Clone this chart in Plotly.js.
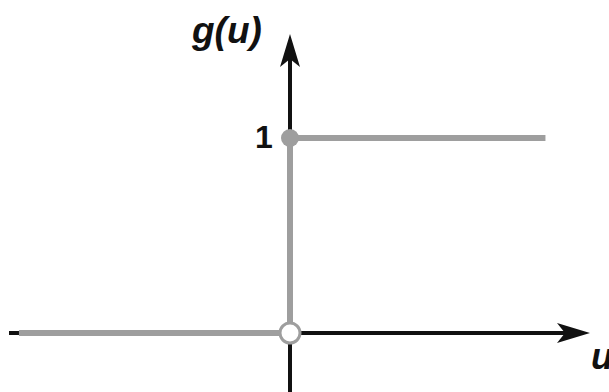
<!DOCTYPE html>
<html>
<head>
<meta charset="utf-8">
<script src="https://cdn.plot.ly/plotly-3.0.1.min.js"></script>
<style>html,body{margin:0;padding:0;background:#fff;}#chart{width:609px;height:392px;}</style>
</head>
<body>
<div id="chart"></div>
<script>
// Data: unit step function g(u)
const uValues = [-1.39, 0, 1.31];
const gValues = [0, 1, 1];
const closedPoint = {u: [0], g: [1]};
const openPoint = {u: [0], g: [0]};
const yTickLabel = '1';

// Geometry helpers (figure is 609x392, zero margins)
const W = 609, H = 392;
const PXU = 195;          // pixels per unit
const X0 = 290, Y0 = 333; // pixel location of origin
const xr = [-X0 / PXU, (W - X0) / PXU];
const yr = [-(H - Y0) / PXU, Y0 / PXU];
const px2x = p => (p - X0) / PXU;
const px2y = p => (Y0 - p) / PXU;

const gray = '#9e9e9e';
const black = '#111111';

const traces = [
  {
    x: uValues, y: gValues, type: 'scatter', mode: 'lines',
    line: {shape: 'hv', color: gray, width: 6},
    hoverinfo: 'skip'
  },
  {
    x: closedPoint.u, y: closedPoint.g, type: 'scatter', mode: 'markers',
    marker: {size: 18, color: gray, line: {width: 0}},
    hoverinfo: 'skip'
  },
  {
    x: openPoint.u, y: openPoint.g, type: 'scatter', mode: 'markers',
    marker: {size: 20, color: '#ffffff', line: {width: 3, color: gray}},
    hoverinfo: 'skip'
  }
];

const xTip = px2x(590), yTip = px2y(34);
const shapes = [
  // x axis line
  {type: 'line', layer: 'below', x0: px2x(9), x1: px2x(570), y0: 0, y1: 0,
   line: {color: black, width: 4}},
  // y axis line
  {type: 'line', layer: 'below', x0: 0, x1: 0, y0: yr[0], y1: px2y(55),
   line: {color: black, width: 4}},
  // x arrowhead
  {type: 'path', layer: 'below', xsizemode: 'pixel', ysizemode: 'pixel',
   xanchor: xTip, yanchor: 0,
   path: 'M0,0 L-33,10 L-25,0 L-33,-10 Z',
   fillcolor: black, line: {width: 0}},
  // y arrowhead
  {type: 'path', layer: 'below', xsizemode: 'pixel', ysizemode: 'pixel',
   xanchor: 0, yanchor: yTip,
   path: 'M0,0 L10,-33 L0,-25 L-10,-33 Z',
   fillcolor: black, line: {width: 0}}
];

const fontFam = '"Liberation Sans", Arial, sans-serif';
const annotations = [
  {x: px2x(226), y: px2y(30), xref: 'x', yref: 'y', text: '<b><i>g(u)</i></b>',
   showarrow: false, xanchor: 'center', yanchor: 'middle',
   font: {family: fontFam, size: 37, color: black}},
  {x: px2x(264), y: px2y(137), xref: 'x', yref: 'y', text: '<b>' + yTickLabel + '</b>',
   showarrow: false, xanchor: 'center', yanchor: 'middle',
   font: {family: fontFam, size: 32, color: black}},
  {x: px2x(589), y: px2y(356), xref: 'x', yref: 'y', text: '<b><i>u</i></b>',
   showarrow: false, xanchor: 'left', yanchor: 'middle',
   font: {family: fontFam, size: 36, color: black}}
];

const layout = {
  width: W, height: H,
  margin: {l: 0, r: 0, t: 0, b: 0, pad: 0},
  paper_bgcolor: '#ffffff', plot_bgcolor: '#ffffff',
  showlegend: false,
  xaxis: {range: xr, visible: false, fixedrange: true},
  yaxis: {range: yr, visible: false, fixedrange: true},
  shapes: shapes,
  annotations: annotations
};

Plotly.newPlot('chart', traces, layout, {staticPlot: true, displayModeBar: false});
</script>
</body>
</html>
